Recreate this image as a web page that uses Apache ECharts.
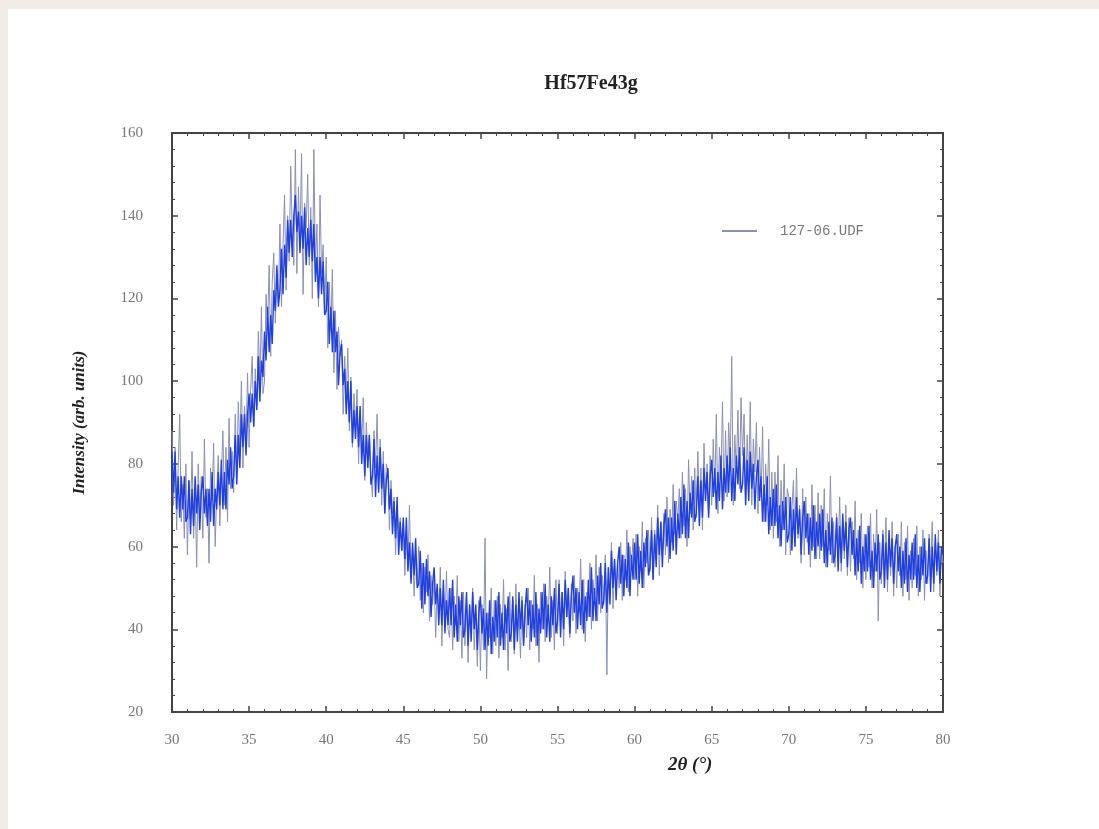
<!DOCTYPE html>
<html>
<head>
<meta charset="utf-8">
<title>Hf57Fe43g</title>
<script src="https://cdn.jsdelivr.net/npm/echarts@6/dist/echarts.min.js"></script>
<style>
  html, body {
    margin: 0;
    padding: 0;
    background: #f1ede6;
  }
  #page {
    position: absolute;
    left: 8px;
    top: 9px;
    width: 1091px;
    height: 820px;
    background: #ffffff;
  }
  #xrd {
    position: absolute;
    left: -8px;
    top: -9px;
    width: 1099px;
    height: 829px;
  }
</style>
</head>
<body>
<div id="page"><div id="xrd"></div></div>
<script>
  // scan range, 2theta in degrees
  var thetaStart = 30
  var step = 0.1

  // raw counts (grey spikes), 10 points per degree, rows = 30..79
  var rawCounts = [
    88,70,84,64,79,92,66,75,62,80,
    58,76,66,83,62,74,55,80,68,77,
    62,86,67,74,56,79,71,85,60,73,
    82,65,77,88,70,84,66,91,74,83,
    73,92,78,95,83,100,79,94,86,102,
    84,98,106,89,103,94,112,100,118,97,
    100,121,113,128,106,124,131,114,126,119,
    138,118,133,145,122,140,129,152,136,128,
    156,126,147,133,155,121,143,137,150,128,
    142,120,156,127,138,118,145,126,133,116,
    130,108,124,112,127,102,117,98,113,106,
    110,92,106,96,108,88,101,84,97,89,
    98,80,93,84,96,76,90,82,87,77,
    72,88,79,92,74,86,70,83,68,80,
    78,64,76,68,72,58,70,62,67,59,
    66,53,63,55,70,52,60,48,58,51,
    60,47,56,44,55,49,58,42,53,46,
    52,38,50,44,55,36,49,42,54,40,
    38,50,35,48,41,53,37,47,33,49,
    36,48,32,46,39,50,35,44,31,47,
    30,46,35,62,28,44,38,50,34,47,
    36,48,33,46,38,52,35,45,30,49,
    37,47,34,51,39,44,33,48,36,46,
    38,50,35,47,40,53,36,46,32,49,
    40,51,37,48,42,55,38,47,35,52,
    39,52,41,49,36,54,43,50,38,51,
    42,53,39,50,44,57,40,52,37,49,
    43,56,40,52,46,58,42,55,44,53,
    46,58,29,55,48,61,45,57,50,56,
    50,61,47,58,52,64,49,60,55,62,
    52,63,48,60,54,66,50,62,56,64,
    54,67,52,64,57,70,53,66,58,68,
    58,72,56,69,61,75,63,71,66,74,
    62,78,65,74,60,81,68,77,64,79,
    67,83,70,79,64,85,72,80,68,82,
    70,86,73,92,68,84,76,95,71,88,
    72,90,80,106,70,87,78,93,74,96,
    82,92,71,87,76,95,70,86,78,90,
    68,84,72,89,66,80,70,86,64,78,
    62,78,66,82,60,76,64,80,58,74,
    72,58,69,76,60,79,62,70,56,74,
    58,72,61,68,55,75,60,70,57,73,
    57,70,60,74,55,68,59,77,56,66,
    55,68,58,72,54,66,57,70,53,67,
    54,66,57,71,52,64,56,68,50,63,
    52,65,55,68,50,63,54,69,42,61,
    51,64,54,67,49,62,53,66,48,60,
    50,63,53,66,48,61,52,65,47,59,
    50,62,53,65,48,60,52,64,47,59,
    51,63,54,66,49,61,53,64,48,60,
    56
  ]

  // dense blue core of the trace, 10 points per degree, rows = 30..79
  var coreCounts = [
    83,73,83,69,77,67,77,69,77,66,
    67,76,63,74,65,77,68,75,64,73,
    77,68,74,65,74,66,78,65,74,69,
    78,70,81,69,78,69,81,75,84,74,
    77,87,75,87,79,92,84,92,82,92,
    97,90,97,89,100,93,106,95,105,101,
    112,105,118,107,116,109,122,117,128,118,
    122,132,121,133,125,139,131,139,130,140,
    145,136,141,131,140,132,142,128,137,130,
    139,129,138,124,130,120,130,121,129,116,
    117,124,109,118,107,117,107,112,99,107,
    109,99,103,92,100,90,100,85,93,86,
    94,84,94,80,87,77,87,79,87,75,
    77,86,72,82,73,84,74,80,68,76,
    79,69,74,63,71,62,72,58,66,59,
    67,57,67,54,61,51,61,53,62,50,
    51,59,45,56,46,57,48,54,43,51,
    55,46,51,41,50,41,52,39,47,41,
    50,41,52,38,46,37,48,41,49,38,
    40,49,36,46,37,49,40,46,35,44,
    48,39,45,35,44,36,47,34,43,37,
    47,38,49,36,44,35,46,39,48,37,
    39,48,35,46,37,49,40,47,36,45,
    50,41,47,37,46,38,49,36,45,39,
    49,40,51,38,46,37,48,41,50,39,
    42,51,38,49,40,52,43,50,39,48,
    53,44,50,40,49,41,52,39,48,42,
    52,43,55,42,50,42,53,46,56,45,
    47,56,44,55,46,59,50,57,47,56,
    60,51,58,48,57,50,61,48,58,52,
    61,52,63,51,59,50,61,55,64,53,
    55,64,52,63,55,67,58,66,55,65,
    69,60,67,57,67,59,71,58,68,62,
    72,63,75,62,71,62,73,67,76,66,
    68,77,65,76,67,79,71,78,67,77,
    81,72,79,69,78,71,82,69,79,73,
    82,73,84,71,79,71,82,75,84,73,
    75,84,70,81,71,83,74,80,69,77,
    81,71,77,66,75,66,77,63,72,65,
    74,65,75,62,70,60,71,64,72,61,
    63,72,59,69,60,72,63,69,58,67,
    71,62,68,58,67,59,70,57,66,60,
    68,59,69,56,64,55,66,58,67,56,
    58,67,54,65,56,68,59,66,55,64,
    67,58,64,53,62,54,65,51,60,54,
    63,54,65,52,59,50,61,54,63,52,
    54,63,50,61,52,64,55,62,51,60,
    63,54,60,50,59,51,62,49,58,52,
    61,52,63,50,58,49,60,53,62,51,
    53,62,49,60,51,63,54,61,51,60,
    58
  ]

  var xTicks = [30, 35, 40, 45, 50, 55, 60, 65, 70, 75, 80]
  var yTicks = [20, 40, 60, 80, 100, 120, 140, 160]

  function toPairs(values) {
    return values.map(function (v, i) {
      return [+(thetaStart + i * step).toFixed(2), v]
    })
  }

  var axisColor = '#444'
  var labelFont = {
    color: '#777',
    fontSize: 15,
    fontFamily: 'Liberation Serif'
  }

  function frameAxis(extra) {
    return Object.assign({
      type: 'value',
      axisLine: { show: true, onZero: false, lineStyle: { color: axisColor, width: 2 } },
      axisTick: { show: true, inside: true, length: 6, lineStyle: { color: axisColor, width: 1.5 } },
      minorTick: { show: true, splitNumber: 5, length: 3, lineStyle: { color: axisColor } },
      splitLine: { show: false },
      axisLabel: { show: false }
    }, extra)
  }

  var chart = echarts.init(document.getElementById('xrd'))
  chart.setOption({
    backgroundColor: 'transparent',
    animation: false,
    title: {
      text: 'Hf57Fe43g',
      left: 586,
      top: 69,
      textAlign: 'center',
      textStyle: {
        fontSize: 20,
        fontFamily: 'Liberation Serif',
        fontWeight: 'bold',
        color: '#222'
      }
    },
    legend: {
      data: ['127-06.UDF'],
      left: 717,
      top: 219,
      icon: 'rect',
      itemWidth: 35,
      itemHeight: 2,
      textStyle: {
        color: '#777',
        fontSize: 14,
        fontFamily: 'Liberation Mono',
        padding: [0, 0, 0, 18]
      }
    },
    grid: {
      left: 172,
      right: 156,
      top: 133,
      bottom: 117,
      containLabel: false
    },
    xAxis: [
      frameAxis({
        min: xTicks[0],
        max: xTicks[xTicks.length - 1],
        interval: 5,
        position: 'bottom',
        axisLabel: Object.assign({ show: true, margin: 21 }, labelFont)
      }),
      frameAxis({
        min: xTicks[0],
        max: xTicks[xTicks.length - 1],
        interval: 5,
        position: 'top'
      })
    ],
    yAxis: [
      frameAxis({
        min: yTicks[0],
        max: yTicks[yTicks.length - 1],
        interval: 20,
        position: 'left',
        name: 'Intensity (arb. units)',
        nameLocation: 'middle',
        nameGap: 84,
        nameTextStyle: {
          fontSize: 17,
          fontStyle: 'italic',
          fontWeight: 'bold',
          fontFamily: 'Liberation Serif',
          color: '#222'
        },
        axisLabel: Object.assign({ show: true, margin: 29 }, labelFont)
      }),
      frameAxis({
        min: yTicks[0],
        max: yTicks[yTicks.length - 1],
        interval: 20,
        position: 'right'
      })
    ],
    graphic: [
      {
        type: 'text',
        left: 668,
        top: 756,
        style: {
          text: '2θ (°)',
          fontSize: 19,
          fontStyle: 'italic',
          fontWeight: 'bold',
          fontFamily: 'Liberation Serif',
          fill: '#222'
        }
      }
    ],
    series: [
      {
        name: '127-06.UDF',
        type: 'line',
        showSymbol: false,
        color: '#8a90b4',
        lineStyle: { width: 1, color: '#8a90b4' },
        data: toPairs(rawCounts)
      },
      {
        name: 'core',
        type: 'line',
        showSymbol: false,
        color: '#1f3fe0',
        lineStyle: { width: 1.4, color: '#1f3fe0' },
        data: toPairs(coreCounts)
      }
    ]
  })
</script>
</body>
</html>
